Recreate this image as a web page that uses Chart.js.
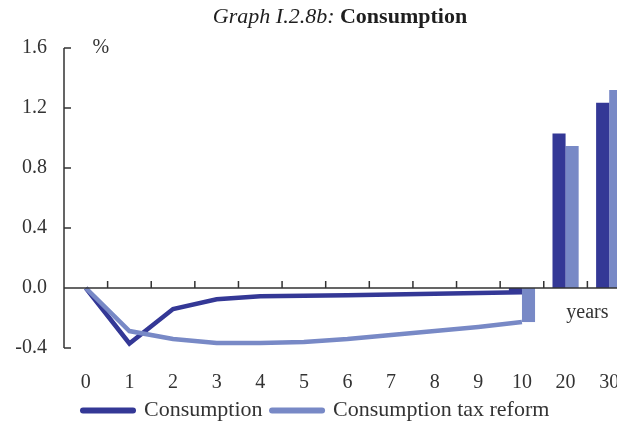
<!DOCTYPE html>
<html>
<head>
<meta charset="utf-8">
<style>
  html, body { margin: 0; padding: 0; overflow: hidden; background: #ffffff; }
  canvas { display: block; }
</style>
<script src="https://cdn.jsdelivr.net/npm/chart.js@4/dist/chart.umd.min.js"></script>
</head>
<body>
<canvas id="chart" width="680" height="425"></canvas>
<script>
// Years after the reform
const categories = ['0', '1', '2', '3', '4', '5', '6', '7', '8', '9', '10', '20', '30'];
// Adjustment path, years 0-10 (% deviation)
const consumptionPath = [0, -0.37, -0.14, -0.075, -0.055, -0.052, -0.048, -0.044, -0.038, -0.034, -0.028];
const taxReformPath   = [0, -0.287, -0.34, -0.367, -0.367, -0.36, -0.34, -0.313, -0.287, -0.26, -0.227];
// Longer horizon shown as bars
const barYears        = ['10', '20', '30'];
const consumptionBars = [-0.028, 1.03, 1.235];
const taxReformBars   = [-0.227, 0.947, 1.32];
// Vertical axis ticks
const yTickValues = [-0.4, 0, 0.4, 0.8, 1.2, 1.6];

const DARK = '#343896';
const LIGHT = '#7889c6';
const INK = '#333333';
const SERIF = '"Liberation Serif", "Times New Roman", serif';

const lineData = path => categories.map((c, i) => (i < path.length ? path[i] : null));
const barData = vals => categories.map(c => {
  const k = barYears.indexOf(c);
  return k >= 0 ? vals[k] : null;
});

const axesAndNotes = {
  id: 'axesAndNotes',
  afterLayout(chart) {
    // indent the legend row a little from the plot's left edge
    if (chart.legend) chart.legend.left += 9.5;
  },
  afterDatasetsDraw(chart) {
    const { ctx, chartArea, scales: { x, y } } = chart;
    const left = chartArea.left;
    const zeroY = y.getPixelForValue(0);
    ctx.save();
    ctx.strokeStyle = INK;
    ctx.lineWidth = 1.5;
    ctx.beginPath();
    // vertical axis with inward ticks
    ctx.moveTo(left, y.getPixelForValue(yTickValues[yTickValues.length - 1]));
    ctx.lineTo(left, y.getPixelForValue(yTickValues[0]));
    yTickValues.forEach(v => {
      const py = y.getPixelForValue(v);
      ctx.moveTo(left, py);
      ctx.lineTo(left + 7, py);
    });
    // zero line with upward ticks between categories
    ctx.moveTo(left, zeroY);
    ctx.lineTo(chartArea.right, zeroY);
    for (let i = 0; i < categories.length - 1; i++) {
      const px = (x.getPixelForValue(i) + x.getPixelForValue(i + 1)) / 2;
      ctx.moveTo(px, zeroY);
      ctx.lineTo(px, zeroY - 7);
    }
    ctx.stroke();

    ctx.fillStyle = INK;
    ctx.font = '20px ' + SERIF;
    ctx.textAlign = 'center';
    ctx.textBaseline = 'middle';
    ctx.fillText('%', x.getPixelForValue(0) + 15, y.getPixelForValue(1.6));
    ctx.fillText('years', (x.getPixelForValue(11) + x.getPixelForValue(12)) / 2, y.getPixelForValue(-0.165));
    ctx.restore();
  },
  afterDraw(chart) {
    const { ctx } = chart;
    const partA = 'Graph I.2.8b: ';
    const partB = 'Consumption';
    ctx.save();
    ctx.fillStyle = '#1e1e1e';
    ctx.textBaseline = 'middle';
    ctx.textAlign = 'left';
    ctx.font = 'italic 22px ' + SERIF;
    const wA = ctx.measureText(partA).width;
    ctx.font = 'bold 22px ' + SERIF;
    const wB = ctx.measureText(partB).width;
    const startX = chart.width / 2 - (wA + wB) / 2;
    ctx.font = 'italic 22px ' + SERIF;
    ctx.fillText(partA, startX, 17);
    ctx.font = 'bold 22px ' + SERIF;
    ctx.fillText(partB, startX + wA, 17);
    ctx.restore();
  }
};

new Chart(document.getElementById('chart'), {
  type: 'bar',
  data: {
    labels: categories,
    datasets: [
      {
        type: 'line', label: 'Consumption', data: lineData(consumptionPath),
        borderColor: DARK, backgroundColor: DARK, borderWidth: 4.5,
        pointRadius: 0, tension: 0, fill: false, borderJoinStyle: 'miter', order: 1
      },
      {
        type: 'line', label: 'Consumption tax reform', data: lineData(taxReformPath),
        borderColor: LIGHT, backgroundColor: LIGHT, borderWidth: 4.5,
        pointRadius: 0, tension: 0, fill: false, borderJoinStyle: 'miter', order: 0
      },
      {
        label: 'Consumption (long run)', data: barData(consumptionBars),
        backgroundColor: DARK, borderWidth: 0,
        categoryPercentage: 0.6, barPercentage: 1.0, order: 2
      },
      {
        label: 'Consumption tax reform (long run)', data: barData(taxReformBars),
        backgroundColor: LIGHT, borderWidth: 0,
        categoryPercentage: 0.6, barPercentage: 1.0, order: 2
      }
    ]
  },
  options: {
    responsive: false,
    animation: false,
    layout: { padding: { top: 48, right: 49, bottom: 0, left: 0 } },
    scales: {
      x: {
        offset: true,
        grid: { display: false, drawTicks: false },
        border: { display: false },
        ticks: {
          autoSkip: false, maxRotation: 0, padding: 23,
          color: INK, font: { family: SERIF, size: 20 }
        },
        afterFit: s => { s.height = 42; }
      },
      y: {
        min: -0.4, max: 1.6,
        grid: { display: false, drawTicks: false },
        border: { display: false },
        afterBuildTicks: s => { s.ticks = yTickValues.map(v => ({ value: v })); },
        ticks: {
          padding: 17, color: INK, font: { family: SERIF, size: 20 },
          callback: v => Number(v).toFixed(1)
        },
        afterFit: s => { s.width = 64; }
      }
    },
    plugins: {
      tooltip: { enabled: false },
      title: { display: false },
      legend: {
        position: 'bottom',
        align: 'start',
        fullSize: false,
        maxHeight: 35,
        labels: {
          usePointStyle: true,
          pointStyleWidth: 50,
          padding: 9.5,
          color: INK,
          font: { family: SERIF, size: 22 },
          filter: item => item.datasetIndex < 2,
          sort: (a, b) => a.datasetIndex - b.datasetIndex,
          generateLabels: chart =>
            Chart.defaults.plugins.legend.labels.generateLabels(chart).map(item => ({
              ...item, pointStyle: 'line', lineWidth: 6, lineCap: 'round'
            }))
        }
      }
    }
  },
  plugins: [axesAndNotes]
});
</script>
</body>
</html>
